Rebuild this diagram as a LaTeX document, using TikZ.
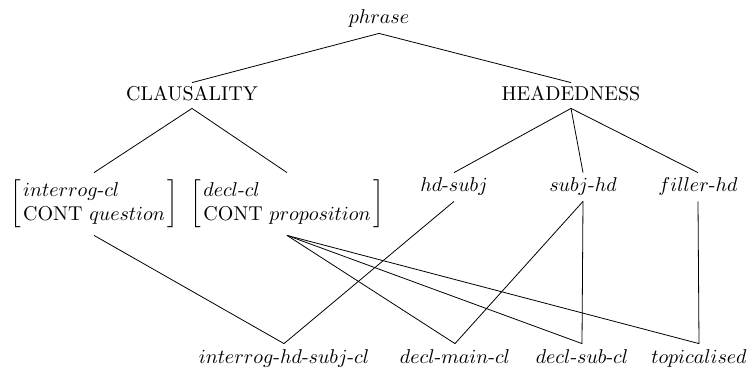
\documentclass[tikz,border=0pt]{standalone}
\usepackage{amsmath}
% type names: math italic letters joined by text hyphens
\newcommand{\hy}{\text{-}}
\begin{document}
\begin{tikzpicture}[x=0.5pt,y=-0.5pt,
  lbl/.style={inner sep=0pt,text height=6pt,text depth=1.5pt},
  toplbl/.style={lbl,minimum height=14pt},
  dimlbl/.style={lbl,minimum height=12.5pt},
  midlbl/.style={lbl,minimum height=14pt},
  leaflbl/.style={lbl,minimum height=15pt},
  avm/.style={inner sep=0pt,minimum height=31pt},
  edge/.style={line width=0.4pt}]
\useasboundingbox (0,0) rectangle (750,370);

% root and the two dimensions
\node[toplbl] (phrase) at (379,19) {$phrase$};
\node[dimlbl] (claus) at (192,95.5) {CLAUSALITY};
\node[dimlbl] (head) at (571,95.5) {HEADEDNESS};

% clausality types (feature structures)
\node[avm] (interrog) at (94,204)
  {$\left[\begin{array}{@{\kern1.2pt}l@{\kern1.2pt}}interrog\hy cl\\ \text{CONT}\ question\end{array}\right]$};
\node[avm] (decl) at (287,204)
  {$\left[\begin{array}{@{\kern1.2pt}l@{\kern1.2pt}}decl\hy cl\\ \text{CONT}\ proposition\end{array}\right]$};

% headedness types
\node[midlbl] (hdsubj) at (454,187) {$hd\hy subj$};
\node[midlbl] (subjhd) at (583,187) {$subj\hy hd$};
\node[midlbl] (fillerhd) at (698,187) {$filler\hy hd$};

% maximal types
\node[leaflbl] (ihsc) at (284,359) {$interrog\hy hd\hy subj\hy cl$};
\node[leaflbl] (dmc) at (455,359) {$decl\hy main\hy cl$};
\node[leaflbl] (dsc) at (582,359) {$decl\hy sub\hy cl$};
\node[leaflbl] (top) at (699,359) {$topicalised$};

% upper hierarchy
\draw[edge] (claus.north) -- (phrase.south) -- (head.north);
\draw[edge] (interrog.north) -- (claus.south) -- (decl.north);
\draw[edge] (head.south) -- (hdsubj.north);
\draw[edge] (head.south) -- (subjhd.north);
\draw[edge] (head.south) -- (fillerhd.north);

% multiple inheritance
\draw[edge] (interrog.south) -- (ihsc.north) -- (hdsubj.south);
\draw[edge] (decl.south) -- (dmc.north) -- (subjhd.south);
\draw[edge] (decl.south) -- (dsc.north) -- (subjhd.south);
\draw[edge] (decl.south) -- (top.north) -- (fillerhd.south);
\end{tikzpicture}
\end{document}
